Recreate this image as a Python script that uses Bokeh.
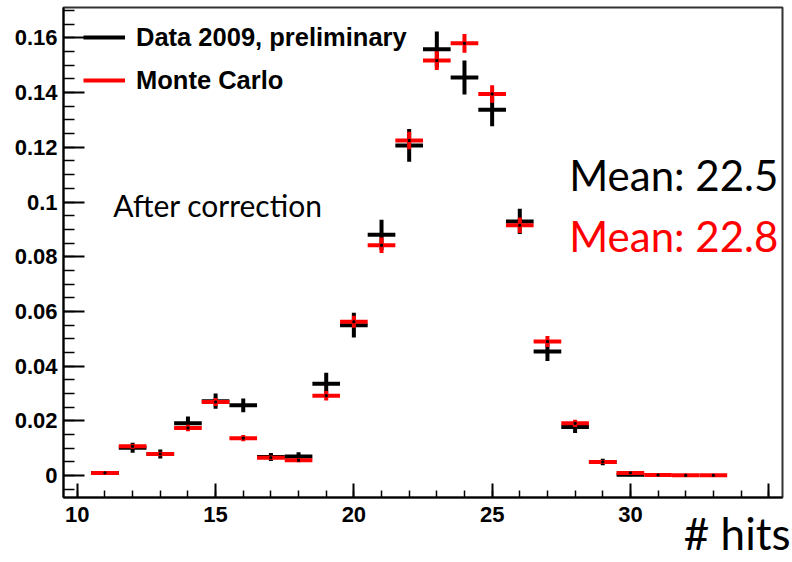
from bokeh.plotting import figure
from bokeh.models import (FixedTicker, CustomJSTickFormatter, Legend, LegendItem,
                          Label, ColumnDataSource, Range1d, LinearAxis)
from bokeh.embed import file_html
from bokeh.resources import INLINE

# ---- data ----
hits = [11, 12, 13, 14, 15, 16, 17, 18, 19, 20, 21, 22, 23, 24, 25, 26, 27, 28, 29, 30]
data_vals = [0.0010, 0.0102, 0.0079, 0.0191, 0.0272, 0.0257, 0.0068, 0.0070, 0.0336, 0.0550,
             0.0880, 0.1207, 0.1558, 0.1455, 0.1337, 0.0929, 0.0454, 0.0178, 0.0050, 0.0003]
data_errs = [0.0005, 0.0018, 0.0016, 0.0025, 0.0028, 0.0025, 0.0015, 0.0015, 0.0040, 0.0045,
             0.0055, 0.0060, 0.0065, 0.0062, 0.0060, 0.0046, 0.0035, 0.0022, 0.0012, 0.0005]

mc_hits = [11, 12, 13, 14, 15, 16, 17, 18, 19, 20, 21, 22, 23, 24, 25, 26, 27, 28, 29, 30, 31, 32, 33]
mc_vals = [0.0010, 0.0107, 0.0079, 0.0174, 0.0269, 0.0137, 0.0065, 0.0056, 0.0292, 0.0562,
           0.0842, 0.1225, 0.1517, 0.1580, 0.1395, 0.0915, 0.0490, 0.0191, 0.0050, 0.0010,
           0.0002, 0.0001, 0.0001]
mc_errs = [0.0003, 0.0009, 0.0008, 0.0012, 0.0015, 0.0011, 0.0008, 0.0007, 0.0017, 0.0022,
           0.0028, 0.0032, 0.0034, 0.0034, 0.0032, 0.0028, 0.0020, 0.0013, 0.0007, 0.0003,
           0.0001, 0.0000, 0.0000]

bin_half = 0.5
x_major = [10, 15, 20, 25, 30, 35]
y_major = [0, 0.02, 0.04, 0.06, 0.08, 0.10, 0.12, 0.14, 0.16]

legend_labels = ["Data 2009, preliminary", "Monte Carlo"]
mean_data = "Mean: 22.5"
mean_mc = "Mean: 22.8"
note = "After correction"
xlabel = "# hits"


def src(xs, ys, es):
    return ColumnDataSource(dict(
        x=xs, y=ys,
        x0=[x - bin_half for x in xs], x1=[x + bin_half for x in xs],
        y0=[y - e for y, e in zip(ys, es)], y1=[y + e for y, e in zip(ys, es)],
    ))


p = figure(width=792, height=562, output_backend="svg", toolbar_location=None,
           x_range=Range1d(9.5, 35.5), y_range=Range1d(-0.0080, 0.1711),
           min_border_left=63, min_border_right=10, min_border_top=7, min_border_bottom=65)
p.xgrid.visible = False
p.ygrid.visible = False
p.outline_line_color = "#333333"
p.outline_line_width = 2
p.background_fill_color = "white"
p.border_fill_color = "white"

# axes
p.xaxis.ticker = FixedTicker(ticks=x_major, minor_ticks=list(range(10, 36)))
p.yaxis.ticker = FixedTicker(ticks=y_major,
                             minor_ticks=[round(-0.005 + 0.005 * i, 3) for i in range(36)])
p.yaxis.formatter = CustomJSTickFormatter(code="""
    let s = tick.toFixed(2);
    s = s.replace(/0+$/, '').replace(/\\.$/, '');
    return s;
""")
p.xaxis.major_label_overrides = {35: ""}
for ax in (p.xaxis, p.yaxis):
    ax.axis_line_width = 2
    ax.axis_line_color = "black"
    ax.major_tick_out = 0
    ax.minor_tick_out = 0
    ax.major_tick_line_width = 2
    ax.minor_tick_line_width = 1.5
    ax.major_tick_line_color = "black"
    ax.minor_tick_line_color = "black"
    ax.major_label_text_font = "Liberation Sans"
    ax.major_label_text_font_style = "bold"
    ax.major_label_text_font_size = "22px"
    ax.major_label_text_color = "black"
p.xaxis.major_tick_in = 14
p.xaxis.minor_tick_in = 7
p.yaxis.major_tick_in = 21
p.yaxis.minor_tick_in = 11
p.xaxis.major_label_standoff = 9
p.yaxis.major_label_standoff = 6

# x-axis title "# hits" at the lower right, drawn as a label-only axis
p.extra_x_ranges = {"lab": Range1d(0, 1)}
lab_axis = LinearAxis(x_range_name="lab", ticker=FixedTicker(ticks=[0.937]),
                      formatter=CustomJSTickFormatter(args=dict(t=xlabel), code="return t;"),
                      axis_line_color=None, major_tick_line_color=None,
                      minor_tick_line_color=None, major_tick_in=0, major_tick_out=0,
                      minor_tick_in=0, minor_tick_out=0,
                      major_label_standoff=-18, major_label_text_font="Lato",
                      major_label_text_font_size="44px", major_label_text_color="black")
p.add_layout(lab_axis, "below")

# data (black) then MC (red)
s_data = src(hits, data_vals, data_errs)
s_mc = src(mc_hits, mc_vals, mc_errs)
lw = 4
dh = p.segment(x0="x0", y0="y", x1="x1", y1="y", source=s_data, line_color="black", line_width=lw)
p.segment(x0="x", y0="y0", x1="x", y1="y1", source=s_data, line_color="black", line_width=lw)
mh = p.segment(x0="x0", y0="y", x1="x1", y1="y", source=s_mc, line_color="#ff0000", line_width=lw)
p.segment(x0="x", y0="y0", x1="x", y1="y1", source=s_mc, line_color="#ff0000", line_width=lw)
p.scatter(x="x", y="y", source=s_mc, marker="square", size=2, color="black")

legend = Legend(items=[LegendItem(label=legend_labels[0], renderers=[dh]),
                       LegendItem(label=legend_labels[1], renderers=[mh])],
                location=(20, 402), padding=0, margin=0, spacing=13,
                glyph_width=42, glyph_height=30, label_height=30, label_standoff=11,
                border_line_color=None, background_fill_alpha=0,
                label_text_font="Liberation Sans", label_text_font_style="bold",
                label_text_font_size="25.5px", label_text_color="black")
p.add_layout(legend)

p.add_layout(Label(x=11.3, y=0.0988, text=note, text_font="Lato", text_font_size="30px",
                   text_baseline="middle", text_align="left", text_color="black"))
p.add_layout(Label(x=35.35, y=0.1098, text=mean_data, text_font="Lato", text_font_size="42px",
                   text_baseline="middle", text_align="right", text_color="black"))
p.add_layout(Label(x=35.35, y=0.0875, text=mean_mc, text_font="Lato", text_font_size="42px",
                   text_baseline="middle", text_align="right", text_color="#ff0000"))

open("out.html", "w").write(file_html(p, INLINE))
